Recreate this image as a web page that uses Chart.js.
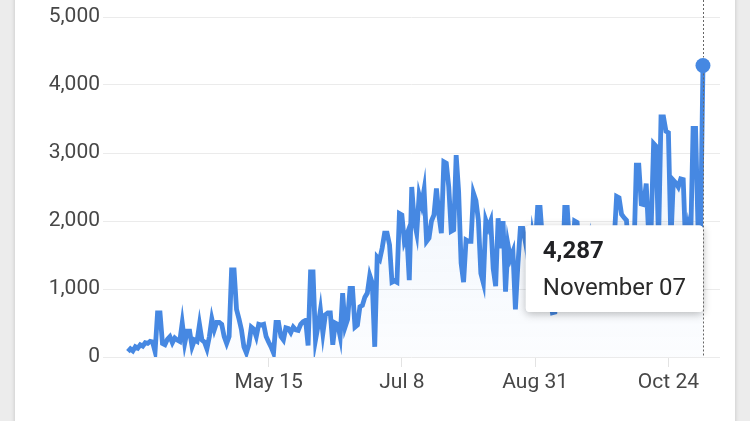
<!DOCTYPE html>
<html>
<head>
<meta charset="utf-8">
<script src="https://cdn.jsdelivr.net/npm/chart.js@4/dist/chart.umd.min.js"></script>
<style>
    html, body { margin: 0; padding: 0; width: 750px; height: 421px; overflow: hidden; background: #ececec; }
    .card { position: absolute; left: 15px; top: -20px; width: 720px; height: 461px; background: #fff; box-shadow: 0 0 4px rgba(0,0,0,0.18); }
    #wrap { position: absolute; left: 0; top: 0; width: 750px; height: 421px; }
</style>
</head>
<body>
<div class="card"></div>
<div id="wrap"><canvas id="myChart"></canvas></div>
<script>

// daily counts, starting March 19
const firstDay = [2021, 2, 19];
const counts = [
    80,120,90,150,130,180,160,210,200,230, 220,80,650,650,200,180,260,300,210,280,
    250,230,500,200,380,380,150,250,230,480, 250,220,120,300,560,400,510,510,480,300,
    200,300,1280,1280,700,560,400,150,
    60,180,440,410,300,480,470,480,300,220, 150,60,510,510,300,250,430,420,360,440,
    400,390,480,520,540,170,1250,1250,250,450, 690,350,620,650,650,180,500,480,300,940,
    440,550,1010,1010,440,470,740,760,880,940, 1200,1090,150,1470,1430,1600,1820,1820,1650,1100,
    1120,1100,
    2110,2090,1700,1800,1130,2500,2000,1820,2380,2240, 2460,1700,1750,2000,2090,2480,2090,1820,2870,2850,
    2500,1850,1870,2970,2430,1380,1100,1720,1700,1700, 2410,2300,2010,1230,1090,2010,1900,2000,1300,1040,
    2040,1600,2000,960,1650,1450,1550,700,1350,1890, 1890,1700,
    1500,1200,1800,1600,2200,2200,1700,1300,1500,900, 650,660,1300,1500,1200,2200,2200,1600,1400,2000,
    1980,1500,1300,1100,1500,1700,1200,900,1400,1600, 1100,1300,1800,1500,1200,1700,2360,2340,2100,2050,
    2010,1500,1700,1500,2820,2820,2250,2240,2550,1800, 1900,3140,3100,1700,3530,3530,3320,3300,1700,2600,
    2560,2500,2620,2610,1600,1900,1700,3360,3360,1900, 1800,4287
];
const tickDays = [57, 111, 165, 219];
const tickLabels = ['May 15', 'Jul 8', 'Aug 31', 'Oct 24'];
const yTicks = [0, 1000, 2000, 3000, 4000, 5000];

const dayLabels = counts.map((v, i) => {
    const d = new Date(firstDay[0], firstDay[1], firstDay[2] + i);
    return d.toLocaleString('en-US', {month: 'long'}) + ' ' + String(d.getDate()).padStart(2, '0');
});
const last = counts.length - 1;
const blue = '#4688e2';

Chart.defaults.font.family = 'Roboto';

Chart.Tooltip.positioners.pinned = function(elements){
    if (!elements.length) return false;
    const el = elements[0].element;
    return {x: el.x - 4, y: this.chart.chartArea.bottom - 45};
};

const tooltipShadow = {
    id: 'tooltipShadow',
    beforeTooltipDraw(chart, args){
        const t = args.tooltip;
        if (!t.opacity) return;
        const c = chart.ctx;
        c.save();
        c.shadowColor = 'rgba(0,0,0,0.28)';
        c.shadowBlur = 8;
        c.shadowOffsetY = 2;
        c.fillStyle = '#fff';
        c.beginPath();
        c.roundRect(t.x, t.y, t.width, t.height, 4);
        c.fill();
        c.restore();
    }
};

const crosshair = {
    id: 'crosshair',
    afterDraw(chart){
        const el = chart.getDatasetMeta(0).data[last];
        const c = chart.ctx;
        const x = Math.round(el.x) + 0.5;
        c.save();
        c.setLineDash([2, 2]);
        c.strokeStyle = '#666';
        c.lineWidth = 1;
        c.beginPath();
        c.moveTo(x, 0);
        c.lineTo(x, el.y - 8);
        c.moveTo(x, el.y + 8);
        c.lineTo(x, chart.chartArea.bottom);
        c.stroke();
        c.restore();
    }
};

function createChart(){
    const ctx = document.getElementById('myChart').getContext('2d');
    const myChart = new Chart(ctx, {
        type: 'line',
        data: {
            datasets: [{
                data: counts.map((v, i) => ({x: i, y: v})),
                borderColor: blue,
                borderWidth: 4.8,
                tension: 0,
                pointRadius: c => c.dataIndex === last ? 7.5 : 0,
                pointHoverRadius: 7.5,
                pointBackgroundColor: blue,
                pointBorderWidth: 0,
                fill: 'origin',
                backgroundColor: c => {
                    const area = c.chart.chartArea;
                    if (!area) return 'rgba(70,136,226,0.06)';
                    const g = c.chart.ctx.createLinearGradient(0, area.top, 0, area.bottom);
                    g.addColorStop(0, 'rgba(70,136,226,0.12)');
                    g.addColorStop(1, 'rgba(70,136,226,0.02)');
                    return g;
                }
            }]
        },
        options: {
            responsive: true,
            maintainAspectRatio: false,
            animation: false,
            events: [],
            layout: {padding: {top: 17, right: 30, left: 0, bottom: 0}},
            plugins: {
                legend: {display: false},
                tooltip: {
                    position: 'pinned',
                    xAlign: 'right',
                    yAlign: 'bottom',
                    caretSize: 0,
                    caretPadding: 0,
                    cornerRadius: 4,
                    backgroundColor: '#fff',
                    titleColor: '#202124',
                    bodyColor: '#2a2a2a',
                    titleFont: {size: 24, weight: 'bold'},
                    bodyFont: {size: 24},
                    titleMarginBottom: 8,
                    padding: {top: 12, bottom: 9, left: 17, right: 17},
                    displayColors: false,
                    callbacks: {
                        title: items => items[0].parsed.y.toLocaleString('en-US'),
                        label: item => dayLabels[item.dataIndex]
                    }
                }
            },
            scales: {
                x: {
                    type: 'linear',
                    min: -10.1,
                    max: 239.9,
                    afterBuildTicks: s => { s.ticks = tickDays.map(v => ({value: v})); },
                    afterFit: s => { s.height = 64; },
                    grid: {drawOnChartArea: false, color: '#e3e3e3', tickLength: 10},
                    border: {display: false},
                    ticks: {
                        callback: (v, i) => tickLabels[i],
                        color: '#474747',
                        font: {size: 21},
                        padding: 3,
                        maxRotation: 0,
                        autoSkip: false
                    }
                },
                y: {
                    min: 0,
                    max: 5000,
                    afterBuildTicks: s => { s.ticks = yTicks.map(v => ({value: v})); },
                    afterFit: s => { s.width = 103; },
                    grid: {color: '#ebebeb', drawTicks: false},
                    border: {display: false},
                    ticks: {
                        callback: v => v.toLocaleString('en-US'),
                        color: '#474747',
                        font: {size: 21},
                        padding: 3
                    }
                }
            }
        },
        plugins: [tooltipShadow, crosshair]
    });

    const pt = myChart.getDatasetMeta(0).data[last];
    myChart.tooltip.setActiveElements([{datasetIndex: 0, index: last}], {x: pt.x, y: pt.y});
    myChart.update();
}

createChart();
</script>
</body>
</html>
